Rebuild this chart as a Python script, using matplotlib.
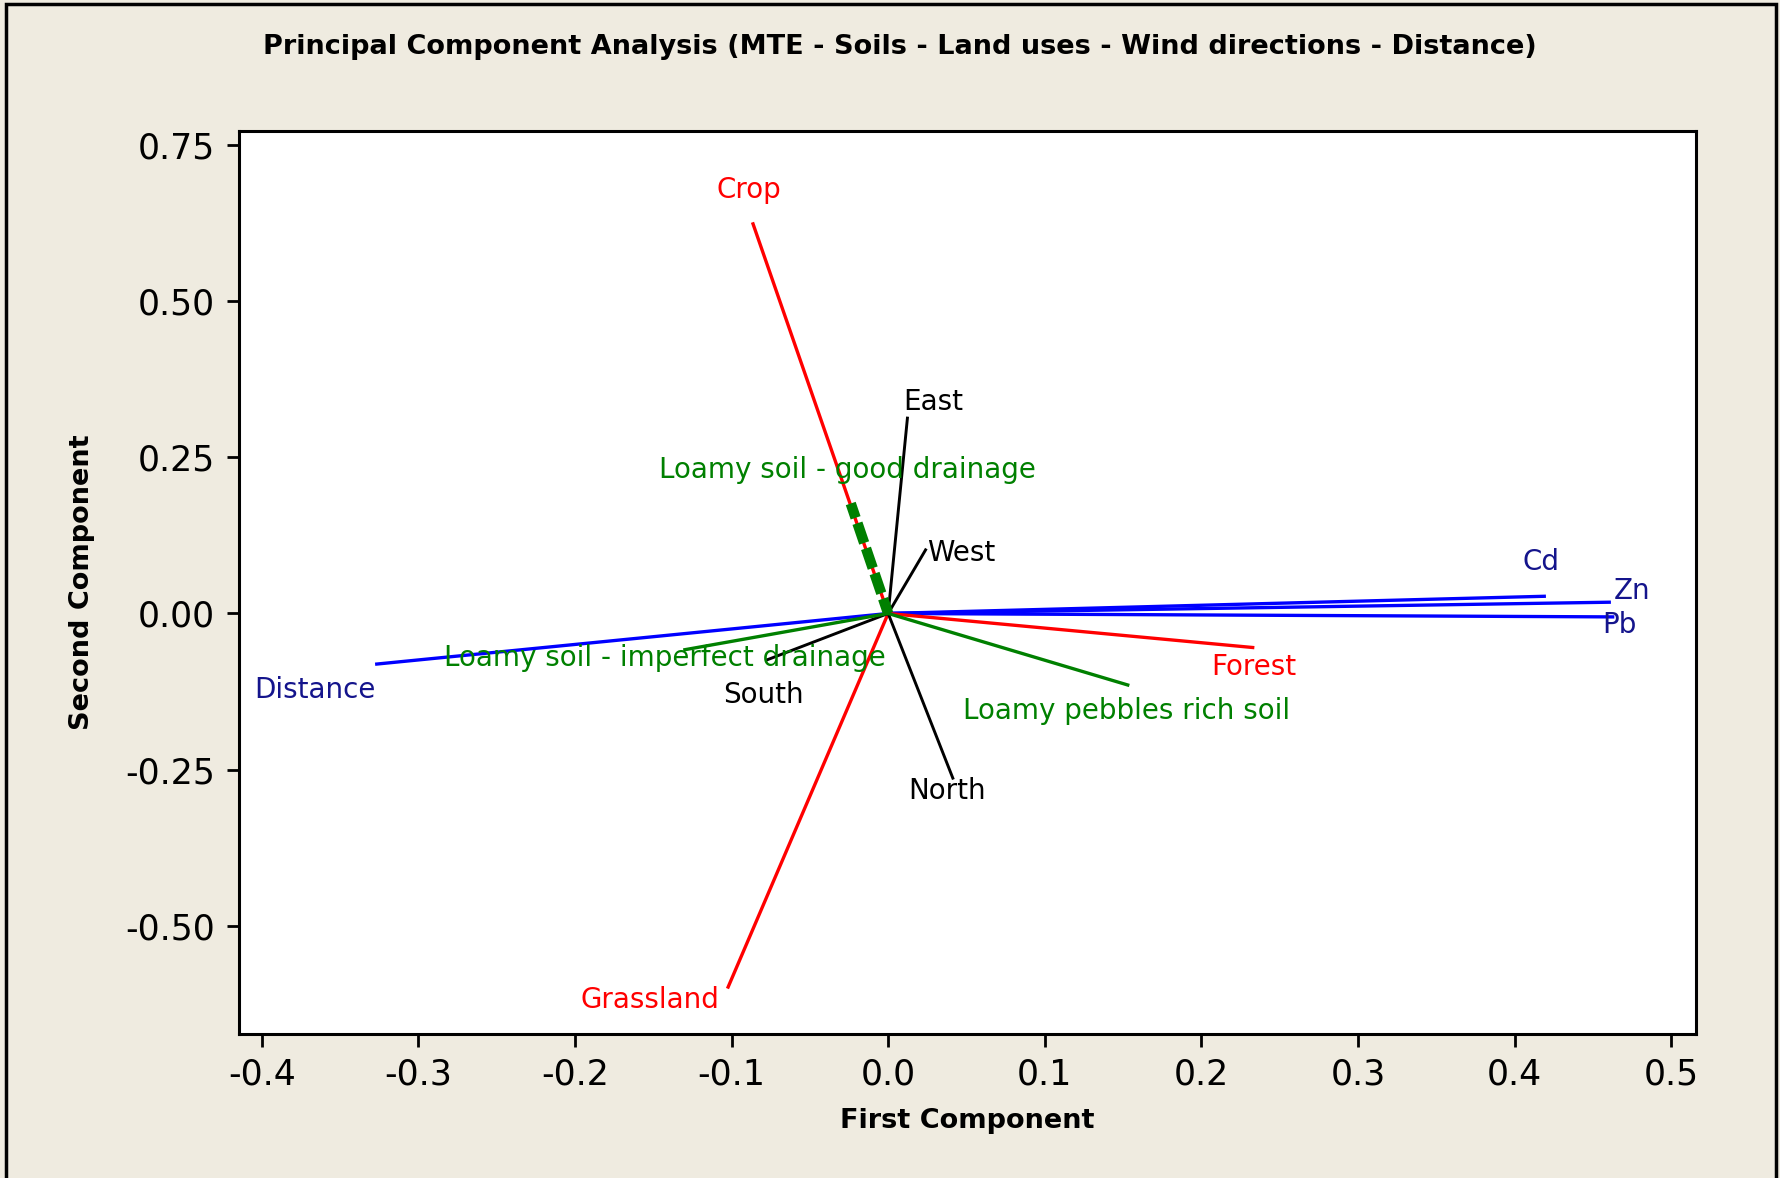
import matplotlib.pyplot as plt
from matplotlib.patches import Rectangle

# loadings (first component, second component)
names = ["Cd", "Zn", "Pb", "Distance",
         "Crop", "Grassland", "Forest",
         "East", "West", "South", "North",
         "Loamy soil - good drainage", "Loamy soil - imperfect drainage", "Loamy pebbles rich soil"]
pc1 = [0.419, 0.4605, 0.4627, -0.3266,
       -0.0863, -0.1022, 0.2328,
       0.0123, 0.0239, -0.0776, 0.0413,
       -0.0239, -0.1298, 0.153]
pc2 = [0.0275, 0.018, -0.0055, -0.081,
       0.6236, -0.598, -0.0545,
       0.3127, 0.1018, -0.0745, -0.2636,
       0.176, -0.058, -0.1145]
groups = ["metal", "metal", "metal", "metal",
          "land", "land", "land",
          "wind", "wind", "wind", "wind",
          "soil", "soil", "soil"]

# where each label sits
lab_x = [0.417, 0.475, 0.467, -0.3662,
         -0.0892, -0.1523, 0.2335,
         0.029, 0.0464, -0.0798, 0.0377,
         -0.0261, -0.1429, 0.1523]
lab_y = [0.0818, 0.0364, -0.0182, -0.1218,
         0.678, -0.618, -0.0855,
         0.338, 0.0964, -0.131, -0.2836,
         0.229, -0.0709, -0.1564]

line_col = {"metal": "#0000ff", "land": "#ff0000", "wind": "black", "soil": "#008000"}
text_col = {"metal": "#14148c", "land": "#ff0000", "wind": "black", "soil": "#008000"}

bg = "#efebe0"
plt.rcParams["font.family"] = ["DejaVu Sans"]
plt.rcParams["axes.unicode_minus"] = False

fig = plt.figure(figsize=(17.81, 11.78), dpi=100, facecolor=bg)
ax = fig.add_axes([0.134, 0.1225, 0.818, 0.7665])

for g in ["metal", "land", "wind", "soil"]:
    for i in range(len(names)):
        if groups[i] != g:
            continue
        if names[i] == "Loamy soil - good drainage":
            ax.plot([0, pc1[i]], [0, pc2[i]], color=line_col[g], lw=7.5,
                    linestyle=(0.5, (2.0, 0.55)), zorder=4)
        else:
            ax.plot([0, pc1[i]], [0, pc2[i]], color=line_col[g],
                    lw=2.4 if g != "wind" else 2.1, zorder=3)
        ax.text(lab_x[i], lab_y[i], names[i], color=text_col[g], fontsize=20,
                ha="center", va="center", zorder=5)

ax.set_xlim(-0.4148, 0.5156)
ax.set_ylim(-0.6727, 0.7727)
ax.set_xticks([-0.4, -0.3, -0.2, -0.1, 0.0, 0.1, 0.2, 0.3, 0.4, 0.5])
ax.set_yticks([-0.5, -0.25, 0.0, 0.25, 0.5, 0.75])
ax.set_yticklabels(["-0.50", "-0.25", "0.00", "0.25", "0.50", "0.75"])
ax.tick_params(direction="out", length=9, width=2, labelsize=25, pad=8)
for s in ax.spines.values():
    s.set_linewidth(2.2)

ax.set_xlabel("First Component", fontsize=19.5, fontweight="bold", labelpad=12)
ax.set_ylabel("Second Component", fontsize=19.5, fontweight="bold", labelpad=22)
fig.suptitle("Principal Component Analysis (MTE - Soils - Land uses - Wind directions - Distance)",
             fontsize=19.5, fontweight="bold", x=0.505, y=0.971)

fig.patches.append(Rectangle((0.0034, -0.05), 0.9938, 1.047, transform=fig.transFigure,
                             fill=False, edgecolor="black", lw=2.5))

fig.savefig("out.png", dpi=100, facecolor=bg)
